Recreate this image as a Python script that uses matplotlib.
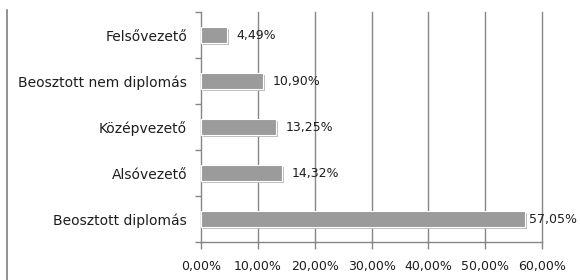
import numpy as np
import matplotlib.pyplot as plt
import matplotlib.patheffects as pe
from matplotlib.lines import Line2D

kategoriak = ['Beosztott diplomás', 'Alsóvezető', 'Középvezető',
              'Beosztott nem diplomás', 'Felsővezető']
ertekek = [57.05, 14.32, 13.25, 10.90, 4.49]
x_tickek = [0, 10, 20, 30, 40, 50, 60]

plt.rcParams['font.family'] = ['DejaVu Sans']

fig = plt.figure(figsize=(5.8, 2.8), dpi=100)
ax = fig.add_axes([0.3466, 0.1357, 0.5879, 0.8213])

y = np.arange(len(kategoriak))
bars = ax.barh(y, ertekek, height=0.34, color='#9b9b9b', edgecolor='white',
               linewidth=0.8, zorder=3)
for b in bars:
    b.set_path_effects([pe.SimplePatchShadow(offset=(1.5, -1.5), shadow_rgbFace='#bdbdbd', alpha=1),
                        pe.Normal()])

for yi, v in zip(y, ertekek):
    off = 3 if v > 50 else 7   # a leghosszabbnál közelebb, hogy kiférjen
    ax.annotate(f'{v:.2f}%'.replace('.', ','), (v, yi), xytext=(off, 0),
                textcoords='offset points', va='center', ha='left',
                fontsize=9, color='#1e1e1e', zorder=4)

ax.set_xlim(0, 60)
ax.set_ylim(-0.5, len(kategoriak) - 0.5)
ax.set_xticks(x_tickek)
ax.set_xticklabels([f'{t:.2f}%'.replace('.', ',') for t in x_tickek],
                   fontsize=9, color='#1e1e1e')
ax.set_yticks(y)
ax.set_yticklabels(kategoriak, fontsize=10, color='#1e1e1e')
ax.set_yticks(np.arange(-0.5, len(kategoriak), 1), minor=True)

for t in x_tickek[1:]:
    ax.axvline(t, color='#868686', linewidth=1, zorder=0, clip_on=False)
ax.tick_params(axis='y', which='major', length=0, pad=10)
ax.tick_params(axis='y', which='minor', length=4, color='#868686', width=1)
ax.tick_params(axis='x', length=5, color='#868686', width=1, pad=8)
for s in ['top', 'right']:
    ax.spines[s].set_visible(False)
for s in ['left', 'bottom']:
    ax.spines[s].set_color('#868686')
    ax.spines[s].set_linewidth(1)

# bal oldali keret vonal
fig.add_artist(Line2D([0.012, 0.012], [0.0, 0.965], color='#7f7f7f', linewidth=1.2,
                      transform=fig.transFigure))

fig.savefig('out.png', dpi=100)
